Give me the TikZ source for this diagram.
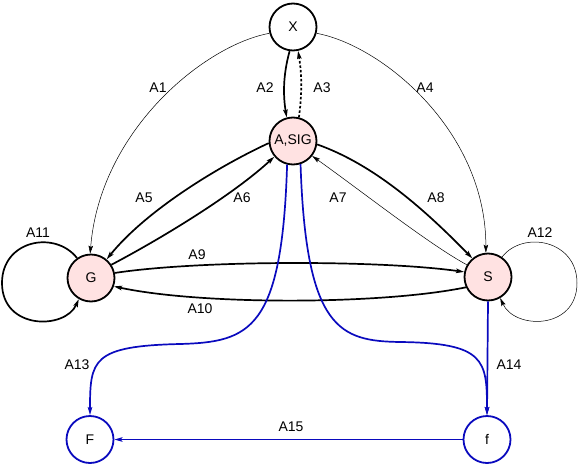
\documentclass[tikz,border=0pt]{standalone}
\usepackage{fontspec}
\setmainfont{Liberation Sans}
\usetikzlibrary{arrows.meta}
\definecolor{pinkfill}{RGB}{255,226,226}
\definecolor{edgeblue}{RGB}{10,10,190}
\begin{document}
\begin{tikzpicture}[x=1pt,y=-1pt,
  state/.style={circle,draw=black,line width=1.8pt,minimum size=47pt,inner sep=0pt,font=\fontsize{14}{16}\selectfont},
  hot/.style={state,fill=pinkfill},
  bluestate/.style={state,draw=edgeblue},
  thickedge/.style={line width=1.7pt,-{Stealth[length=8pt,width=4.5pt,inset=1.5pt]}},
  thinedge/.style={line width=0.5pt,-{Stealth[length=8pt,width=4.5pt,inset=1.5pt]}},
  blueedge/.style={thickedge,draw=edgeblue},
  lbl/.style={font=\fontsize{14}{16}\selectfont,inner sep=0pt,text=black}]
\useasboundingbox (0,0) rectangle (578,463);
% nodes
\node[state] (X) at (293,27) {X};
\node[hot] (ASIG) at (293,141) {A,SIG};
\node[hot] (G) at (91,278) {G};
\node[hot] (S) at (488,277) {S};
\node[bluestate] (F) at (90,439.5) {F};
\node[bluestate] (f) at (487,439.5) {f};
% edges
\draw[thinedge] (X.195) .. controls (205,45) and (100,130) .. (G.92)
  node[lbl,at={(158,88)}] {A1};
\draw[thickedge] (X.262) .. controls (283,75) and (283,95) .. (ASIG.105)
  node[lbl,at={(265,88)}] {A2};
\draw[thickedge,dash pattern=on 2.5pt off 2pt] (ASIG.76) .. controls (302,95) and (302,75) .. (X.282)
  node[lbl,at={(322,88)}] {A3};
\draw[thinedge] (X.-15) .. controls (381,45) and (486,130) .. (S.95)
  node[lbl,at={(425,88)}] {A4};
\draw[thickedge] (ASIG.185) .. controls (213,169) and (144,213) .. (G.50)
  node[lbl,at={(144,198)}] {A5};
\draw[thickedge] (G.33) .. controls (164,237) and (234,194) .. (ASIG.220)
  node[lbl,at={(242,198)}] {A6};
\draw[thinedge] (S.150) .. controls (430,245) and (360,190) .. (ASIG.-38)
  node[lbl,at={(338,198)}] {A7};
\draw[thickedge] (ASIG.-8) .. controls (375,165) and (425,210) .. (S.130)
  node[lbl,at={(436,198)}] {A8};
\draw[thickedge] (G.12) .. controls (200,260) and (380,260) .. (S.168)
  node[lbl,at={(197,255)}] {A9};
\draw[thickedge] (S.205) .. controls (380,305) and (200,305) .. (G.-20)
  node[lbl,at={(200,309)}] {A10};
\draw[thickedge] (G.125) .. controls (55,230) and (2,240) .. (2,283)
  .. controls (2,330) and (65,330) .. (G.240)
  node[lbl,at={(38,233)}] {A11};
\draw[thinedge] (S.55) .. controls (523,230) and (577,240) .. (577,283)
  .. controls (577,330) and (515,330) .. (S.300)
  node[lbl,at={(540,233)}] {A12};
\draw[blueedge] (ASIG.256) .. controls (282,330) and (250,342) .. (180,344)
  .. controls (92,346) and (90,360) .. (F.90)
  node[lbl,at={(77,365)}] {A13};
\draw[blueedge] (ASIG.288) .. controls (306,330) and (340,341) .. (400,342)
  .. controls (485,343) and (487,360) .. (f.90);
\draw[blueedge] (S.270) -- (f.90)
  node[lbl,at={(509,365)}] {A14};
\draw[blueedge] (f.180) -- (F.0)
  node[lbl,at={(291,427)}] {A15};
\end{tikzpicture}
\end{document}
